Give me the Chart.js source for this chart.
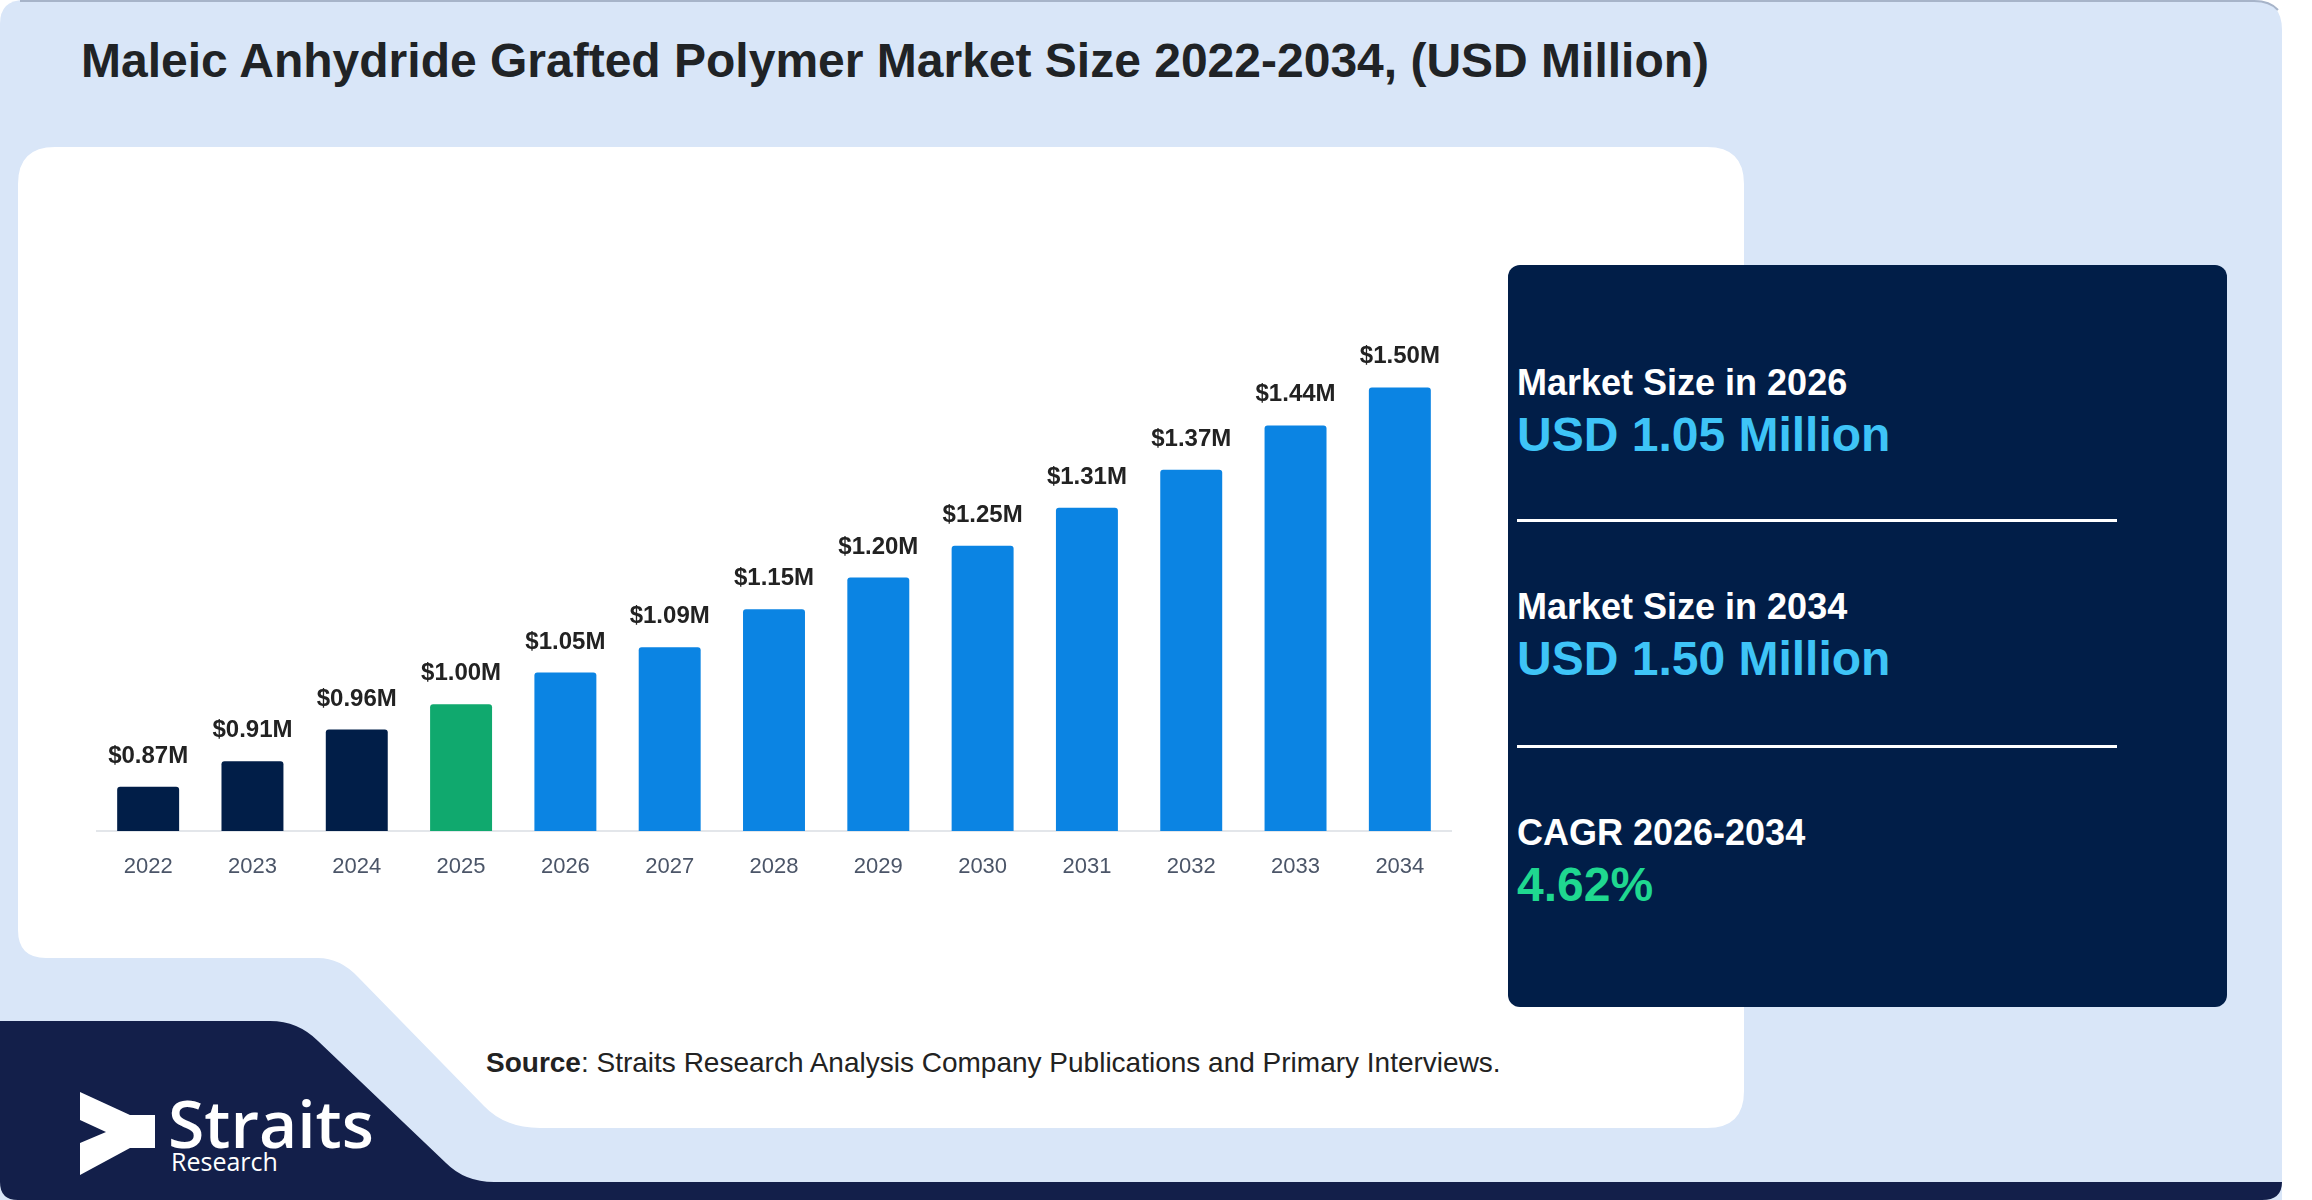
<!DOCTYPE html>
<html>
<head>
<meta charset="utf-8">
<script src="https://cdn.jsdelivr.net/npm/chart.js@4.4.1/dist/chart.umd.min.js"></script>
<style>
  html, body { margin: 0; padding: 0; background: #ffffff; }
  #stage { position: relative; width: 2312px; height: 1200px; overflow: hidden; }
  svg.bg { position: absolute; left: 0; top: 0; }
  #c { position: absolute; left: 96px; top: 324px; }
</style>
</head>
<body>
<div id="stage">
  <svg class="bg" width="2312" height="1200" xmlns="http://www.w3.org/2000/svg" font-family="'Liberation Sans', Arial, sans-serif">
    <!-- light blue frame -->
    <path d="M24,0 H2252 Q2282,0 2282,30 V1200 H0 V24 Q0,0 24,0 Z" fill="#d9e6f8"/>
    <path d="M20,1 H2254 Q2270,1 2278,10" fill="none" stroke="#a7b4c9" stroke-width="2"/>
    <!-- white card with notch -->
    <path d="M55,147 H1707 Q1744,147 1744,184 V1091 Q1744,1128 1707,1128 H540 Q505,1128 484,1106 L358,977 Q340,958 318,958 H46 Q18,958 18,930 V184 Q18,147 55,147 Z" fill="#ffffff"/>
    <!-- navy bottom shape -->
    <path d="M0,1021 H270 Q298,1021 318,1041 L446,1163 Q465,1182 494,1182 H2282 Q2282,1200 2262,1200 H18 Q0,1200 0,1182 Z" fill="#131f4a"/>
    <!-- right info panel -->
    <rect x="1508" y="265" width="719" height="742" rx="12" ry="12" fill="#011e48"/>

    <text x="81" y="77" font-size="48" font-weight="bold" fill="#202326">Maleic Anhydride Grafted Polymer Market Size 2022-2034, (USD Million)</text>

    <text x="1517" y="395" font-size="36" font-weight="bold" fill="#ffffff">Market Size in 2026</text>
    <text x="1517" y="451" font-size="48" font-weight="bold" fill="#3ec4f7">USD 1.05 Million</text>
    <rect x="1517" y="519" width="600" height="3" fill="#ffffff"/>
    <text x="1517" y="619" font-size="36" font-weight="bold" fill="#ffffff">Market Size in 2034</text>
    <text x="1517" y="675" font-size="48" font-weight="bold" fill="#3ec4f7">USD 1.50 Million</text>
    <rect x="1517" y="745" width="600" height="3" fill="#ffffff"/>
    <text x="1517" y="845" font-size="36" font-weight="bold" fill="#ffffff">CAGR 2026-2034</text>
    <text x="1517" y="901" font-size="48" font-weight="bold" fill="#1fd890">4.62%</text>

    <text x="486" y="1072" font-size="28" fill="#222222"><tspan font-weight="bold">Source</tspan>: Straits Research Analysis Company Publications and Primary Interviews.</text>

    <!-- logo -->
    <path d="M80,1092 L130,1115 L155,1115 L155,1148 L130,1148 L80,1175 L80,1143 L106,1132 L80,1120 Z" fill="#ffffff"/>
    <text x="168" y="1148" font-family="'Open Sans', sans-serif" font-size="66" font-weight="600" fill="#ffffff">Straits</text>
    <text x="171" y="1171" font-family="'Open Sans', sans-serif" font-size="25" fill="#ffffff">Research</text>
  </svg>
  <canvas id="c" width="1356" height="577"></canvas>
</div>
<script>
const years = ['2022','2023','2024','2025','2026','2027','2028','2029','2030','2031','2032','2033','2034'];
const marketSize = [0.87, 0.91, 0.96, 1.00, 1.05, 1.09, 1.15, 1.20, 1.25, 1.31, 1.37, 1.44, 1.50];
const barColors = ['#011e48','#011e48','#011e48','#10a96e','#0b84e3','#0b84e3','#0b84e3','#0b84e3','#0b84e3','#0b84e3','#0b84e3','#0b84e3','#0b84e3'];
const yMin = 0.8, yMax = 1.6;

Chart.defaults.font.family = "'Liberation Sans', Arial, sans-serif";

const valueLabels = {
  id: 'valueLabels',
  afterDatasetsDraw(chart) {
    const ctx = chart.ctx;
    const meta = chart.getDatasetMeta(0);
    ctx.save();
    ctx.font = 'bold 24px "Liberation Sans", Arial, sans-serif';
    ctx.fillStyle = '#222222';
    ctx.textAlign = 'center';
    ctx.textBaseline = 'alphabetic';
    meta.data.forEach((bar, i) => {
      ctx.fillText('$' + marketSize[i].toFixed(2) + 'M', bar.x, bar.y - 24);
    });
    ctx.restore();
  }
};

new Chart(document.getElementById('c'), {
  type: 'bar',
  data: {
    labels: years,
    datasets: [{
      data: marketSize,
      backgroundColor: barColors,
      borderRadius: 3,
      borderSkipped: 'bottom',
      barPercentage: 0.594,
      categoryPercentage: 1.0
    }]
  },
  options: {
    responsive: false,
    animation: false,
    devicePixelRatio: 1,
    layout: { padding: 0 },
    plugins: { legend: { display: false }, tooltip: { enabled: false } },
    scales: {
      x: {
        grid: { display: false, drawTicks: false },
        border: { display: true, color: '#e3e6ea', width: 2 },
        ticks: { color: '#4b5568', font: { size: 22 }, padding: 23 },
        afterFit(scale) { scale.height = 70; }
      },
      y: { display: false, min: yMin, max: yMax }
    }
  },
  plugins: [valueLabels]
});
</script>
</body>
</html>
